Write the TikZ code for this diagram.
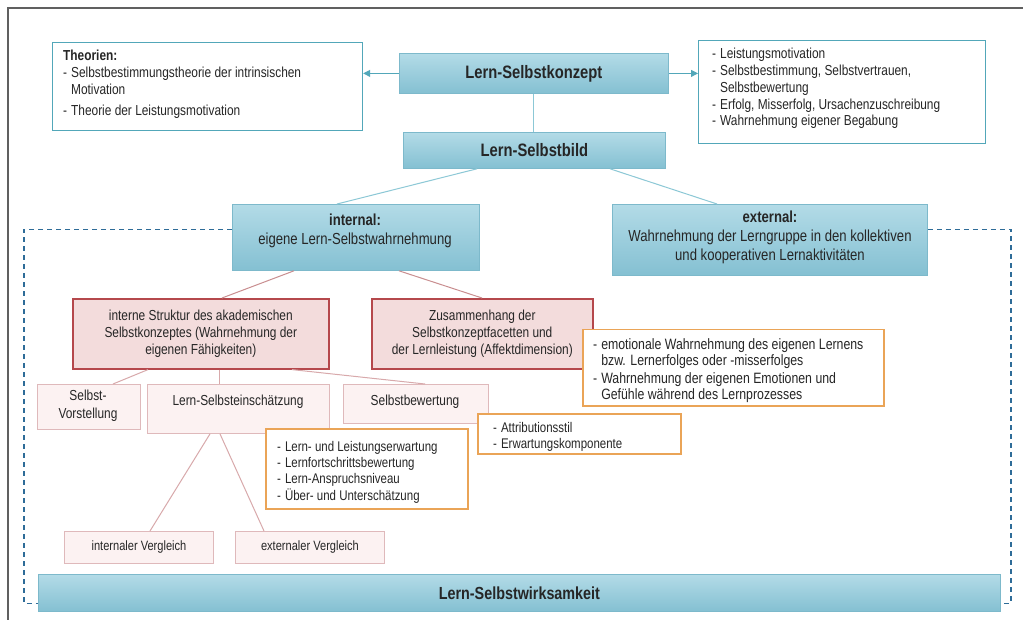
\documentclass[tikz,border=0pt]{standalone}
\usepackage{fontspec}
\setmainfont{Liberation Sans}[FakeStretch=0.82]
\usetikzlibrary{arrows.meta}

\definecolor{bluetop}{HTML}{B3DBE7}
\definecolor{bluebot}{HTML}{84C0D2}
\definecolor{bluebd}{HTML}{7DB9CB}
\definecolor{tealbd}{HTML}{52A7B9}
\definecolor{blueline}{HTML}{8CC8D6}
\definecolor{dashblue}{HTML}{2E6C98}
\definecolor{redfill}{HTML}{F3DCDC}
\definecolor{redbd}{HTML}{B5484C}
\definecolor{redline}{HTML}{C98E90}
\definecolor{pinkfill}{HTML}{FCF2F2}
\definecolor{pinkbd}{HTML}{DFB9BB}
\definecolor{pinkline}{HTML}{D8A9AB}
\definecolor{orangebd}{HTML}{EAA457}
\definecolor{ink}{HTML}{262626}
\definecolor{framegray}{HTML}{606060}

\newcommand\fsz[2]{\fontsize{#1}{#2}\selectfont}
% box given by its top-left and bottom-right corner
\newcommand\panel[6]{\node[#1, anchor=north west, minimum width=#5pt-#3pt, minimum height=#6pt-#4pt] (#2) at (#3,#4) {};}

\tikzset{
  bluebox/.style={draw=bluebd, line width=0.8pt, top color=bluetop, bottom color=bluebot, inner sep=0pt},
  whitebox/.style={draw=tealbd, line width=1.2pt, fill=white, inner sep=0pt},
  redbox/.style={draw=redbd, line width=1.6pt, fill=redfill, inner sep=0pt},
  pinkbox/.style={draw=pinkbd, line width=0.9pt, fill=pinkfill, inner sep=0pt},
  orangebox/.style={draw=orangebd, line width=1.5pt, fill=white, inner sep=0pt},
  txt/.style={inner sep=0pt, text=ink, font=\fsz{14.5}{16.7}},
  blueconn/.style={draw=blueline, line width=1pt},
  tealarrow/.style={draw=tealbd, line width=1pt, -{Triangle[length=7pt,width=7pt]}},
  redconn/.style={draw=redline, line width=1pt},
  pinkconn/.style={draw=pinkline, line width=1pt},
  dashline/.style={draw=dashblue, line width=1.6pt, dash pattern=on 5pt off 4pt},
}

\begin{document}
\begin{tikzpicture}[x=1pt, y=-1pt]
\useasboundingbox (0,0) rectangle (1023,620);
\fill[white] (0,0) rectangle (1023,620);
\draw[framegray, line width=1.3pt] (8,620) -- (8,8) -- (1023,8);

% ---- boxes
\panel{whitebox}{theo}{52}{42}{362}{130}
\panel{bluebox}{konzept}{399}{53}{668}{93}
\panel{whitebox}{aspekte}{698}{40}{985}{143}
\panel{bluebox}{bild}{403}{132}{665}{168}
\panel{bluebox}{int}{232}{204}{479}{270}
\panel{bluebox}{ext}{612}{204}{927}{275}
\panel{bluebox}{wirk}{38}{574}{1000}{611}

% ---- connectors of the upper part
\draw[tealarrow] (konzept.west) -- (konzept.west -| theo.east);
\draw[tealarrow] (konzept.east) -- (konzept.east -| aspekte.west);
\draw[blueconn] (konzept.south) -- (konzept.south |- bild.north);
\draw[blueconn] ([xshift=74pt]bild.south west) -- ([xshift=105pt]int.north west);
\draw[blueconn] ([xshift=207pt]bild.south west) -- ([xshift=105pt]ext.north west);

% ---- dashed frame round the lower part
\draw[dashline] ([yshift=8pt]int.west) -| ([xshift=-14pt,yshift=-10.5pt]wirk.west) -- ([yshift=-10.5pt]wirk.west);
\draw[dashline] ([yshift=10.5pt]ext.east) -| ([xshift=10pt,yshift=-10.5pt]wirk.east) -- ([yshift=-10.5pt]wirk.east);

% ---- internal branch
\panel{redbox}{interne}{72}{298}{328}{368}
\panel{redbox}{zus}{371}{298}{592}{368}
\draw[redconn] ([xshift=62pt]int.south west) -- ([xshift=150pt]interne.north west);
\draw[redconn] ([xshift=167pt]int.south west) -- ([xshift=111pt]zus.north west);

\panel{pinkbox}{vorst}{37}{384}{140}{429}
\panel{pinkbox}{einsch}{147}{384}{329}{433}
\panel{pinkbox}{bewert}{343}{384}{488}{423}
\draw[pinkconn] ([xshift=76pt]interne.south west) -- ([xshift=76pt]vorst.north west);
\draw[pinkconn] ([xshift=147pt]interne.south west) -- ([xshift=72pt]einsch.north west);
\draw[pinkconn] ([xshift=220pt]interne.south west) -- ([xshift=82pt]bewert.north west);

\panel{pinkbox}{vint}{64}{531}{213}{563}
\panel{pinkbox}{vext}{235}{531}{384}{563}
\draw[pinkconn] ([xshift=63pt]einsch.south west) -- ([xshift=86pt]vint.north west);
\draw[pinkconn] ([xshift=73pt]einsch.south west) -- ([xshift=29pt]vext.north west);

\panel{orangebox}{emot}{582}{329}{883}{405}
\panel{orangebox}{erw}{265}{428}{467}{508}
\panel{orangebox}{attr}{477}{413}{680}{453}

% ---- texts
\node[txt, anchor=base west] (theo-t) at (63,61) {\begin{tabular}[t]{@{}l@{\hspace{4pt}}l@{}}
\multicolumn{2}{@{}l}{\bfseries Theorien:}\\
- & Selbstbestimmungstheorie der intrinsischen\\
  & Motivation\\[4pt]
- & Theorie der Leistungsmotivation
\end{tabular}};

\node[txt, anchor=base west] (aspekte-t) at (712,59) {\begin{tabular}[t]{@{}l@{\hspace{4pt}}l@{}}
- & Leistungsmotivation\\
- & Selbstbestimmung, Selbstvertrauen,\\
  & Selbstbewertung\\
- & Erfolg, Misserfolg, Ursachenzuschreibung\\
- & Wahrnehmung eigener Begabung
\end{tabular}};

\node[txt, font=\fsz{18}{21}\bfseries] (konzept-t) at (konzept.center) {Lern-Selbstkonzept};
\node[txt, font=\fsz{18}{21}\bfseries] (bild-t) at (bild.center) {Lern-Selbstbild};
\node[txt, font=\fsz{17.5}{21}\bfseries] (wirk-t) at (wirk.center) {Lern-Selbstwirksamkeit};

\node[txt, font=\fsz{16}{19}, align=center] (int-t) at (355,231) {\textbf{internal:}\\eigene Lern-Selbstwahrnehmung};
\node[txt, font=\fsz{16}{19}, align=center] (ext-t) at (770,237) {\textbf{external:}\\Wahrnehmung der Lerngruppe in den kollektiven\\und kooperativen Lernaktivitäten};

\node[txt, font=\fsz{14.5}{17}, align=center] (interne-t) at (interne.center) {interne Struktur des akademischen\\Selbstkonzeptes (Wahrnehmung der\\eigenen Fähigkeiten)};
\node[txt, font=\fsz{14.5}{17}, align=center] (zus-t) at (zus.center) {Zusammenhang der\\Selbstkonzeptfacetten und\\der Lernleistung (Affektdimension)};

\node[txt, font=\fsz{14.5}{18}, align=center] (vorst-t) at (88,406) {Selbst-\\Vorstellung};
\node[txt] (einsch-t) at (238,402) {Lern-Selbsteinschätzung};
\node[txt] (bewert-t) at (415,402) {Selbstbewertung};
\node[txt, font=\fsz{13.5}{16}] (vint-t) at (vint.center) {internaler Vergleich};
\node[txt, font=\fsz{13.5}{16}] (vext-t) at (vext.center) {externaler Vergleich};

\node[txt, font=\fsz{15}{17}, anchor=base west] (emot-t) at (593,349) {\begin{tabular}[t]{@{}l@{\hspace{4pt}}l@{}}
- & emotionale Wahrnehmung des eigenen Lernens\\
  & bzw. Lernerfolges oder -misserfolges\\
- & Wahrnehmung der eigenen Emotionen und\\
  & Gefühle während des Lernprozesses
\end{tabular}};

\node[txt, font=\fsz{14}{16.3}, anchor=base west] (erw-t) at (277,451) {\begin{tabular}[t]{@{}l@{\hspace{4pt}}l@{}}
- & Lern- und Leistungserwartung\\
- & Lernfortschrittsbewertung\\
- & Lern-Anspruchsniveau\\
- & Über- und Unterschätzung
\end{tabular}};

\node[txt, font=\fsz{14}{16}, anchor=base west] (attr-t) at (493,432) {\begin{tabular}[t]{@{}l@{\hspace{4pt}}l@{}}
- & Attributionsstil\\
- & Erwartungskomponente
\end{tabular}};
\end{tikzpicture}
\end{document}
